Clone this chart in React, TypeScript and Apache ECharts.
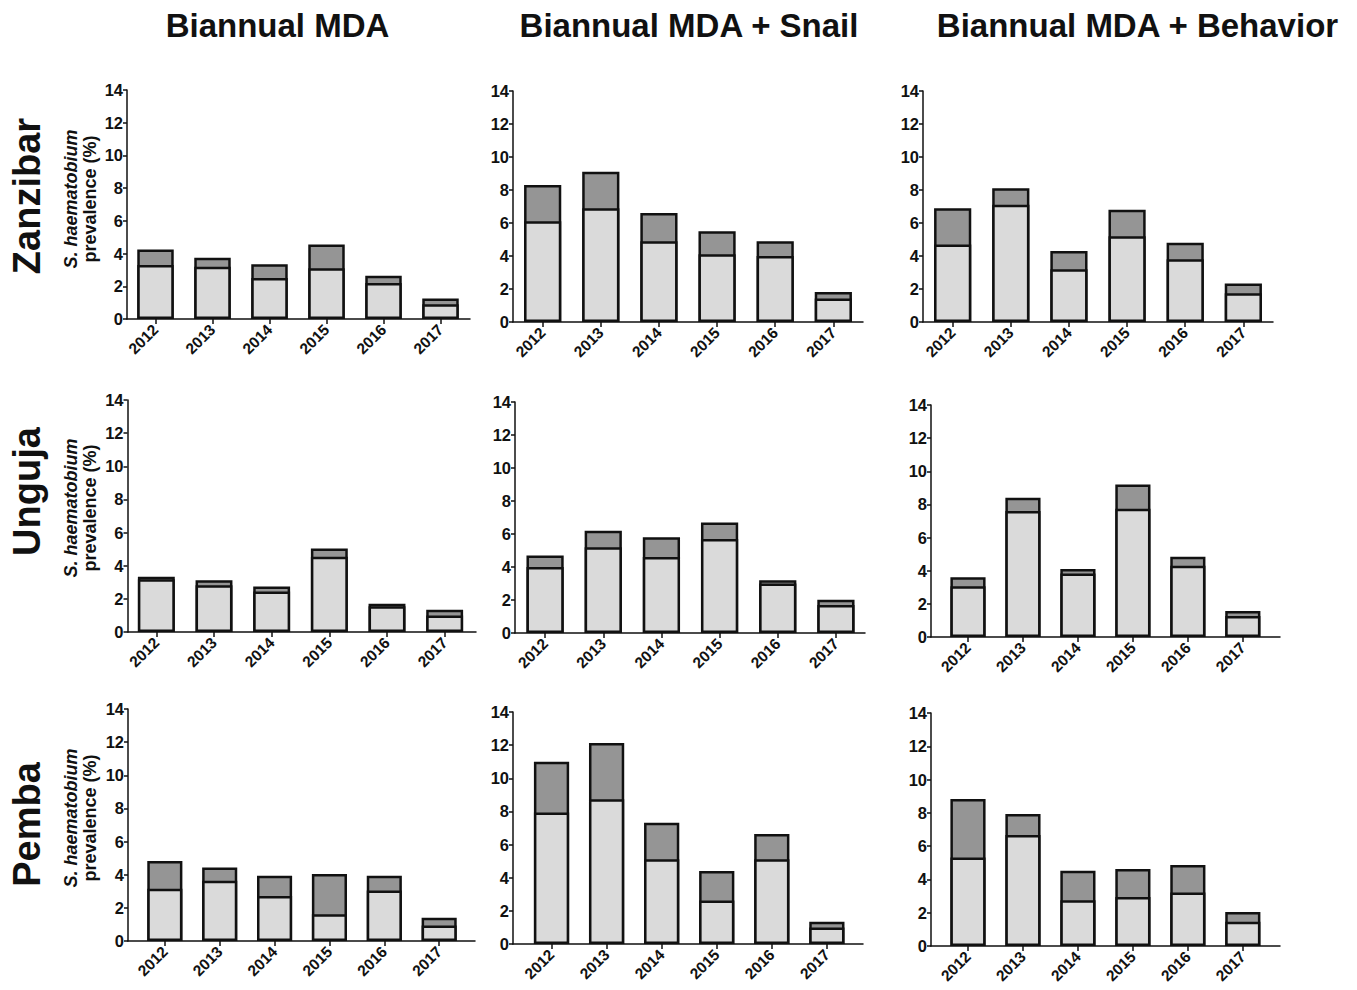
import React, { useEffect, useRef } from "react";
import * as echarts from "echarts";

const years = ["2012", "2013", "2014", "2015", "2016", "2017"];
const columnTitles = ["Biannual MDA", "Biannual MDA + Snail", "Biannual MDA + Behavior"];
const rowTitles = ["Zanzibar", "Unguja", "Pemba"];
const yTicks = { min: 0, max: 14, interval: 2 };

// lower (light) segment values and total bar heights, per panel
const zanzibarMdaLower = [3.3, 3.2, 2.5, 3.1, 2.2, 0.9];
const zanzibarMdaTotal = [4.25, 3.75, 3.35, 4.55, 2.65, 1.25];
const zanzibarSnailLower = [6.1, 6.9, 4.9, 4.1, 4.0, 1.42];
const zanzibarSnailTotal = [8.3, 9.1, 6.6, 5.5, 4.9, 1.82];
const zanzibarBehaviorLower = [4.7, 7.1, 3.2, 5.2, 3.8, 1.74];
const zanzibarBehaviorTotal = [6.9, 8.1, 4.3, 6.8, 4.8, 2.34];

const ungujaMdaLower = [3.18, 2.82, 2.44, 4.54, 1.55, 1.0];
const ungujaMdaTotal = [3.33, 3.13, 2.74, 5.04, 1.71, 1.35];
const ungujaSnailLower = [4.0, 5.2, 4.6, 5.7, 3.0, 1.7];
const ungujaSnailTotal = [4.7, 6.2, 5.8, 6.7, 3.2, 2.02];
const ungujaBehaviorLower = [3.07, 7.6, 3.83, 7.74, 4.3, 1.27];
const ungujaBehaviorTotal = [3.6, 8.4, 4.1, 9.2, 4.84, 1.57];

const pembaMdaLower = [3.16, 3.63, 2.72, 1.62, 3.04, 0.93];
const pembaMdaTotal = [4.83, 4.44, 3.93, 4.04, 3.93, 1.4];
const pembaSnailLower = [7.93, 8.73, 5.11, 2.62, 5.11, 0.99];
const pembaSnailTotal = [11.0, 12.13, 7.32, 4.4, 6.64, 1.35];
const pembaBehaviorLower = [5.32, 6.67, 2.75, 2.95, 3.21, 1.45];
const pembaBehaviorTotal = [8.84, 7.93, 4.52, 4.62, 4.86, 2.05];

const panelData = [
  [zanzibarMdaLower, zanzibarMdaTotal],
  [zanzibarSnailLower, zanzibarSnailTotal],
  [zanzibarBehaviorLower, zanzibarBehaviorTotal],
  [ungujaMdaLower, ungujaMdaTotal],
  [ungujaSnailLower, ungujaSnailTotal],
  [ungujaBehaviorLower, ungujaBehaviorTotal],
  [pembaMdaLower, pembaMdaTotal],
  [pembaSnailLower, pembaSnailTotal],
  [pembaBehaviorLower, pembaBehaviorTotal],
];

// layout: axis left, top, bottom, axis end, bars left, bars right
const frames = [
  { ax: 127, top: 90, bot: 319, axEnd: 470, bl: 127, br: 469 },
  { ax: 513, top: 91, bot: 322, axEnd: 863, bl: 513.6, br: 862.4 },
  { ax: 923, top: 91, bot: 322, axEnd: 1273, bl: 923.6, br: 1272.4 },
  { ax: 127.5, top: 400, bot: 632, axEnd: 476, bl: 127.5, br: 473.5 },
  { ax: 515, top: 402, bot: 633, axEnd: 865, bl: 516, br: 865 },
  { ax: 931, top: 405, bot: 637, axEnd: 1280, bl: 940.5, br: 1270.3 },
  { ax: 128, top: 709, bot: 941, axEnd: 475, bl: 137.4, br: 466.6 },
  { ax: 513, top: 712, bot: 944, axEnd: 863, bl: 524, br: 854.4 },
  { ax: 931, top: 713, bot: 946, axEnd: 1280, bl: 940.5, br: 1270.3 },
];

const FONT = "'Liberation Sans', Arial, Helvetica, sans-serif";
const INK = "#111";

export default function App() {
  const ref = useRef<HTMLDivElement>(null);

  useEffect(() => {
    if (!ref.current) return;
    const chart = echarts.init(ref.current, undefined, { renderer: "svg" });

    const grid: any[] = [];
    const xAxis: any[] = [];
    const yAxis: any[] = [];
    const series: any[] = [];

    frames.forEach((f, i) => {
      grid.push({ left: f.bl, width: f.br - f.bl, top: f.top, height: f.bot - f.top, containLabel: false });
      xAxis.push({
        type: "category",
        gridIndex: i,
        data: years,
        axisLine: { show: false },
        axisTick: { show: true, alignWithLabel: true, length: 5, lineStyle: { color: INK, width: 1.5 } },
        axisLabel: {
          rotate: 45,
          margin: 8,
          fontSize: 15.5,
          fontWeight: "bold",
          color: INK,
          fontFamily: FONT,
        },
        splitLine: { show: false },
      });
      yAxis.push({
        type: "value",
        gridIndex: i,
        min: yTicks.min,
        max: yTicks.max,
        interval: yTicks.interval,
        offset: f.bl - f.ax,
        axisLine: { show: true, lineStyle: { color: INK, width: 1.5 } },
        axisTick: { show: true, length: 4, lineStyle: { color: INK, width: 1.5 } },
        axisLabel: { fontSize: 16.5, fontWeight: "bold", color: INK, fontFamily: FONT, margin: 4 },
        splitLine: { show: false },
      });
      const [lower, total] = panelData[i];
      series.push({
        type: "bar",
        xAxisIndex: i,
        yAxisIndex: i,
        barWidth: "64%",
        barGap: "-100%",
        data: total,
        itemStyle: { color: "#959595", borderColor: INK, borderWidth: 2.5 },
        silent: true,
      });
      series.push({
        type: "bar",
        xAxisIndex: i,
        yAxisIndex: i,
        barWidth: "64%",
        barGap: "-100%",
        data: lower,
        itemStyle: { color: "#dadada", borderColor: INK, borderWidth: 2.5 },
        silent: true,
      });
    });

    // decorative full-length x-axis baselines
    frames.forEach((f, i) => {
      const gi = frames.length + i;
      grid.push({ left: f.ax, width: f.axEnd - f.ax, top: f.top, height: f.bot - f.top, containLabel: false });
      xAxis.push({
        type: "value",
        gridIndex: gi,
        min: 0,
        max: 1,
        axisLine: { show: true, lineStyle: { color: INK, width: 1.5 } },
        axisTick: { show: false },
        axisLabel: { show: false },
        splitLine: { show: false },
      });
      yAxis.push({ type: "value", gridIndex: gi, show: false, min: 0, max: 1, splitLine: { show: false } });
    });

    const colCenters = [277.5, 689, 1137.5];
    const rowCenters = [196, 491.5, 824.5];
    const yTitleCenters = [199, 508, 818];

    const graphic: any[] = [];
    columnTitles.forEach((t, c) => {
      graphic.push({
        type: "text",
        x: colCenters[c],
        y: 25,
        style: {
          text: t,
          fontSize: 33,
          fontWeight: "bold",
          fontFamily: FONT,
          fill: INK,
          textAlign: "center",
          textVerticalAlign: "middle",
        },
      });
    });
    rowTitles.forEach((t, r) => {
      graphic.push({
        type: "text",
        x: 27,
        y: rowCenters[r],
        rotation: Math.PI / 2,
        style: {
          text: t,
          fontSize: 38,
          fontWeight: "bold",
          fontFamily: FONT,
          fill: INK,
          textAlign: "center",
          textVerticalAlign: "middle",
        },
      });
      graphic.push({
        type: "text",
        x: 80,
        y: yTitleCenters[r],
        rotation: Math.PI / 2,
        style: {
          text: "{i|S. haematobium}\n{n|prevalence (%)}",
          textAlign: "center",
          textVerticalAlign: "middle",
          fill: INK,
          rich: {
            i: { fontSize: 18, fontWeight: "bold", fontStyle: "italic", fontFamily: FONT, fill: INK, lineHeight: 19, align: "center" },
            n: { fontSize: 18, fontWeight: "bold", fontFamily: FONT, fill: INK, lineHeight: 19, align: "center" },
          },
        },
      });
    });

    chart.setOption({
      animation: false,
      backgroundColor: "#ffffff",
      grid,
      xAxis,
      yAxis,
      series,
      graphic,
    });

    return () => chart.dispose();
  }, []);

  return (
    <div
      ref={ref}
      style={{ position: "absolute", left: 0, top: 0, width: 1357, height: 990, background: "#fff" }}
    />
  );
}
